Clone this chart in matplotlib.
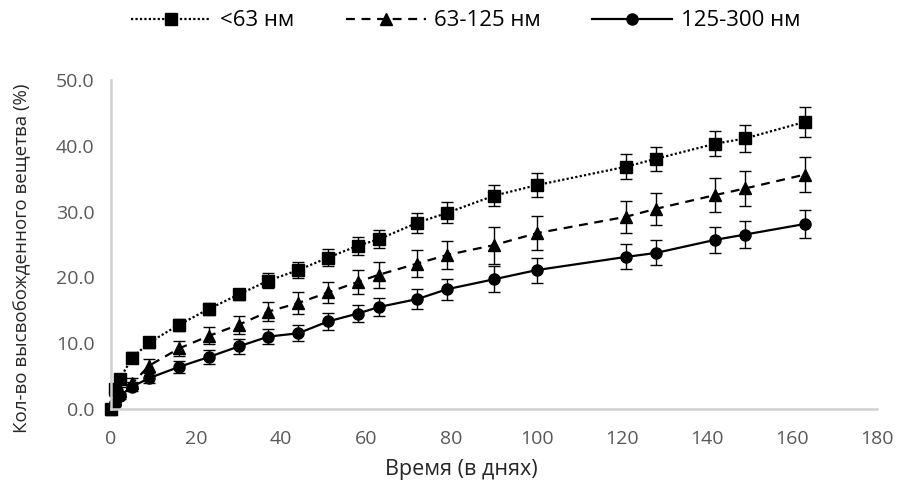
import matplotlib
matplotlib.use("Agg")
import matplotlib.pyplot as plt
from matplotlib.lines import Line2D

plt.rcParams["font.family"] = ["Open Sans", "DejaVu Sans"]

days = [0, 1, 2, 5, 9, 16, 23, 30, 37, 44, 51, 58, 63, 72, 79, 90, 100, 121, 128, 142, 149, 163]

sq = [0, 3.0, 4.5, 7.8, 10.1, 12.8, 15.2, 17.4, 19.5, 21.1, 23.0, 24.8, 25.8,
      28.3, 29.8, 32.4, 34.0, 36.8, 38.0, 40.3, 41.1, 43.6]
tri = [0, 1.5, 2.8, 3.9, 6.6, 9.2, 11.1, 12.8, 14.8, 16.1, 17.7, 19.3, 20.4,
       22.1, 23.4, 24.9, 26.7, 29.2, 30.4, 32.5, 33.5, 35.6]
circ = [0, 0.8, 2.0, 3.4, 4.7, 6.4, 7.9, 9.5, 11.0, 11.5, 13.3, 14.5, 15.5,
        16.7, 18.2, 19.7, 21.1, 23.1, 23.7, 25.7, 26.5, 28.1]

sq_err = [0.1, 0.5, 0.6, 0.8, 0.9, 0.9, 0.9, 0.9, 1.1, 1.2, 1.3, 1.4, 1.4,
          1.5, 1.6, 1.6, 1.8, 1.9, 1.8, 1.9, 2.0, 2.3]
tri_err = [0.1, 0.5, 0.6, 0.8, 1.0, 1.2, 1.3, 1.4, 1.5, 1.6, 1.6, 1.8, 2.0,
           2.0, 2.1, 2.8, 2.6, 2.4, 2.4, 2.6, 2.6, 2.7]
circ_err = [0.1, 0.4, 0.5, 0.7, 0.8, 0.9, 1.0, 1.1, 1.1, 1.2, 1.3, 1.3, 1.3,
            1.5, 1.6, 2.0, 1.9, 1.9, 1.9, 2.0, 2.1, 2.2]

labels = ["<63 нм", "63-125 нм", "125-300 нм"]

fig = plt.figure(figsize=(8.99, 4.84), dpi=100)
ax = fig.add_axes([0.1235, 0.155, 0.852, 0.68])

series = [
    (sq, sq_err, "s", (0, (1, 1)), labels[0]),
    (tri, tri_err, "^", (0, (4, 3)), labels[1]),
    (circ, circ_err, "o", "-", labels[2]),
]
handles = []
for vals, err, mk, ls, lab in series:
    cont = ax.errorbar(days, vals, yerr=err, color="black", marker=mk, markersize=8,
                       linestyle=ls, linewidth=1.6, elinewidth=1, ecolor="black",
                       capsize=4.5, capthick=1)
    for art in cont.get_children():
        art.set_clip_on(False)
    handles.append(Line2D([], [], color="black", marker=mk, markersize=8,
                          linestyle=ls, linewidth=1.6, label=lab))

ax.set_xlim(0, 180)
ax.set_ylim(0, 50)
ax.set_xticks(range(0, 181, 20))
ax.set_yticks(range(0, 51, 10))
ax.set_yticklabels([f"{v:.1f}" for v in range(0, 51, 10)])

for s in ["top", "right"]:
    ax.spines[s].set_visible(False)
for s in ["left", "bottom"]:
    ax.spines[s].set_color("#d0d0d0")
    ax.spines[s].set_linewidth(1.8)
ax.tick_params(length=0, labelsize=14, colors="#595959")
ax.tick_params(axis="x", pad=15)
ax.tick_params(axis="y", pad=12)

fig.text(461 / 899, 1 - 470 / 484, "Время (в днях)", fontsize=15.5, color="#262626",
         ha="center", va="center")
fig.text(22 / 899, 1 - 258 / 484, "Кол-во высвобожденного вещетва (%)", fontsize=13.5,
         color="#262626", ha="center", va="center", rotation=90)

fig.legend(handles=handles, loc="center", bbox_to_anchor=(466 / 899, 1 - 21 / 484),
           ncol=3, frameon=False, fontsize=16, handlelength=3.6, columnspacing=2.3,
           handletextpad=0.4)

fig.savefig("out.png", dpi=100)
